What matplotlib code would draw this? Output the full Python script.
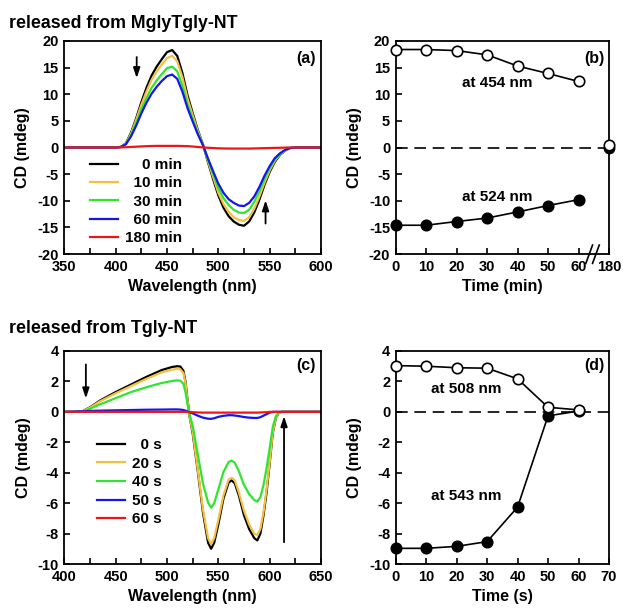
import matplotlib
matplotlib.use("Agg")
import matplotlib.pyplot as plt
import matplotlib.transforms as mtransforms

plt.rcParams['font.family'] = ['Liberation Sans', 'DejaVu Sans']
plt.rcParams['font.weight'] = 'bold'
plt.rcParams['axes.unicode_minus'] = False

# ---- panel (a): spectra, released from MglyTgly-NT ----
wl_a = [350, 400, 405, 410, 415, 420, 425, 430, 435, 440, 445, 450, 455, 460, 465, 470,
        475, 480, 485, 490, 495, 500, 505, 510, 515, 520, 525, 530, 535, 540, 545, 550,
        555, 560, 565, 570, 575, 600]
cd_0min = [0, 0, 0.1, 0.8, 2.8, 5.5, 8.5, 11.2, 13.5, 15.2, 16.6, 17.9, 18.3, 17.2, 14.0, 9.8,
           6.5, 3.3, 0.6, -2.8, -6.0, -9.0, -11.3, -12.9, -13.9, -14.5, -14.7, -13.9, -12.2, -9.8, -7.0, -4.6,
           -2.7, -1.4, -0.6, -0.1, 0, 0]
cd_10min = [0, 0, 0.1, 0.75, 2.6, 5.2, 8.0, 10.5, 12.7, 14.3, 15.6, 16.8, 17.2, 16.2, 13.2, 9.2,
            6.1, 3.1, 0.6, -2.6, -5.6, -8.5, -10.6, -12.1, -13.1, -13.6, -13.8, -13.1, -11.5, -9.2, -6.6, -4.3,
            -2.5, -1.3, -0.6, -0.1, 0, 0]
cd_30min = [0, 0, 0.1, 0.7, 2.3, 4.6, 7.1, 9.3, 11.2, 12.6, 13.8, 14.9, 15.2, 14.3, 11.6, 8.1,
            5.4, 2.7, 0.5, -2.4, -5.0, -7.6, -9.5, -10.8, -11.7, -12.2, -12.3, -11.7, -10.2, -8.2, -5.9, -3.9,
            -2.3, -1.2, -0.5, -0.1, 0, 0]
cd_60min = [0, 0, 0.1, 0.6, 2.1, 4.1, 6.4, 8.4, 10.1, 11.4, 12.5, 13.4, 13.7, 12.9, 10.5, 7.4,
            4.9, 2.5, 0.45, -2.1, -4.5, -6.8, -8.5, -9.7, -10.4, -10.9, -11.0, -10.4, -9.2, -7.4, -5.3, -3.5,
            -2.0, -1.1, -0.45, -0.1, 0, 0]
cd_180min = [0, 0, 0.02, 0.05, 0.1, 0.15, 0.2, 0.25, 0.28, 0.3, 0.3, 0.3, 0.3, 0.3, 0.28, 0.25,
             0.18, 0.1, 0.02, -0.05, -0.1, -0.15, -0.18, -0.2, -0.2, -0.2, -0.2, -0.2, -0.18, -0.15, -0.12, -0.1,
             -0.07, -0.05, -0.02, 0, 0, 0]
labels_a = ['\u2007\u20070 min', '\u200710 min', '\u200730 min', '\u200760 min', '180 min']

# ---- panel (b): time course ----
t_b = [0, 10, 20, 30, 40, 50, 60]
cd454 = [18.4, 18.4, 18.2, 17.4, 15.3, 13.9, 12.4]
cd524 = [-14.6, -14.6, -13.9, -13.25, -12.1, -10.9, -9.8]
t_b_late = 70          # position on the broken axis that stands for 180 min
cd454_180 = 0.55
cd524_180 = -0.1
tick_b = [0, 10, 20, 30, 40, 50, 60, 70]
ticklab_b = ['0', '10', '20', '30', '40', '50', '60', '180']

# ---- panel (c): spectra, released from Tgly-NT ----
wl_c = [400, 410, 418, 425, 435, 450, 465, 480, 495, 505, 510, 513, 516, 518, 520, 522,
        525, 530, 535, 540, 543, 546, 550, 555, 560, 563, 566, 570, 575, 580, 585, 588,
        591, 594, 597, 600, 603, 606, 609, 612, 620, 650]
cd_0s = [0, 0, 0.05, 0.3, 0.75, 1.3, 1.8, 2.3, 2.75, 2.95, 3.0, 2.98, 2.7, 2.0, 0.8, -0.3,
         -1.4, -3.9, -6.6, -8.6, -9.0, -8.6, -7.4, -5.7, -4.65, -4.5, -4.7, -5.5, -6.8, -7.7, -8.3, -8.45,
         -8.0, -6.8, -5.3, -3.4, -1.4, -0.4, -0.05, 0, 0, 0]
cd_20s = [0, 0, 0.05, 0.28, 0.7, 1.22, 1.7, 2.17, 2.6, 2.78, 2.82, 2.8, 2.55, 1.9, 0.75, -0.3,
          -1.3, -3.8, -6.4, -8.3, -8.7, -8.3, -7.1, -5.5, -4.45, -4.33, -4.5, -5.3, -6.5, -7.4, -8.0, -8.1,
          -7.7, -6.6, -5.1, -3.3, -1.35, -0.4, -0.05, 0, 0, 0]
cd_40s = [0, 0, 0.03, 0.2, 0.5, 0.9, 1.3, 1.62, 1.9, 2.03, 2.07, 2.05, 1.85, 1.3, 0.5, -0.2,
          -0.9, -2.8, -4.7, -5.95, -6.3, -6.0, -5.1, -3.95, -3.3, -3.2, -3.35, -3.9, -4.8, -5.4, -5.8, -5.9,
          -5.6, -4.8, -3.7, -2.4, -1.0, -0.3, -0.05, 0, 0, 0]
cd_50s = [0, 0.02, 0.04, 0.06, 0.08, 0.1, 0.12, 0.14, 0.15, 0.16, 0.16, 0.15, 0.12, 0.08, 0.02, -0.03,
          -0.1, -0.25, -0.38, -0.45, -0.46, -0.42, -0.33, -0.26, -0.22, -0.22, -0.24, -0.28, -0.34, -0.38, -0.4, -0.4,
          -0.35, -0.25, -0.15, -0.05, 0, 0, 0, 0, 0, 0]
cd_60s = [0, 0, 0, 0, 0, 0, 0, 0, 0, 0, 0, 0, 0, 0, 0, 0,
          -0.02, -0.04, -0.05, -0.05, -0.05, -0.05, -0.05, -0.05, -0.05, -0.05, -0.05, -0.05, -0.05, -0.05, -0.05, -0.05,
          -0.04, -0.03, -0.02, 0, 0, 0, 0, 0, 0, 0]
labels_c = ['\u20070 s', '20 s', '40 s', '50 s', '60 s']

# ---- panel (d): time course ----
t_d = [0, 10, 20, 30, 40, 50, 60]
cd508 = [3.04, 3.0, 2.9, 2.87, 2.17, 0.3, 0.13]
cd543 = [-8.97, -8.97, -8.84, -8.53, -6.26, -0.26, 0.05]

colors = ['black', '#F5C040', '#2EE62E', '#1515F0', '#F01515']

fig = plt.figure(figsize=(6.23, 6.14), dpi=100)
W, H = 623, 614
def px_axes(x0, y0, x1, y1):
    return fig.add_axes([x0 / W, 1 - y1 / H, (x1 - x0) / W, (y1 - y0) / H])

ax_a = px_axes(64.3, 41, 321, 254)
ax_b = px_axes(395.7, 41, 609, 254)
ax_c = px_axes(64.3, 351, 321, 564)
ax_d = px_axes(395.7, 351, 609, 564)

for ax in [ax_a, ax_b, ax_c, ax_d]:
    for s in ax.spines.values():
        s.set_linewidth(1.3)
    ax.tick_params(which='both', direction='in', length=4, width=1.2, labelsize=10.5, pad=4)

# (a)
for y, c, lab in zip([cd_0min, cd_10min, cd_30min, cd_60min, cd_180min], colors, labels_a):
    ax_a.plot(wl_a, y, color=c, lw=1.6, label=lab)
ax_a.set_xlim(350, 600)
ax_a.set_ylim(-20, 20)
ax_a.set_xticks(range(350, 601, 50))
ax_a.set_xticks(range(375, 600, 50), minor=True)
ax_a.set_yticks(range(-20, 21, 5))
ax_a.set_xlabel('Wavelength (nm)', fontsize=11.5, fontweight='bold', labelpad=4)
ax_a.set_ylabel('CD (mdeg)', fontsize=11.5, fontweight='bold', labelpad=5)
ax_a.legend(loc='upper left', bbox_to_anchor=(0.10, 0.45), frameon=False, fontsize=11,
            handlelength=1.85, handletextpad=0.45, labelspacing=0.28, borderpad=0, borderaxespad=0)
ax_a.annotate('', xy=(420.5, 12.5), xytext=(420.5, 17.5),
              arrowprops=dict(arrowstyle='-|>,head_width=0.2,head_length=0.6', color='black', lw=1.3))
ax_a.annotate('', xy=(546, -9.4), xytext=(546, -14.8),
              arrowprops=dict(arrowstyle='-|>,head_width=0.2,head_length=0.6', color='black', lw=1.3))
ax_a.text(0.978, 0.92, '(a)', transform=ax_a.transAxes, ha='right', va='center', fontsize=11.5)

# (b)
ax_b.axhline(0, color='black', lw=1.2, ls=(0, (7, 4)))
ax_b.plot(t_b, cd454, '-o', color='black', lw=1.2, ms=7.5, mfc='white', mec='black', mew=1.2, clip_on=False, zorder=4)
ax_b.plot(t_b, cd524, '-o', color='black', lw=1.2, ms=7.5, mfc='black', mec='black', mew=1.2, clip_on=False, zorder=4)
ax_b.plot([t_b_late], [cd524_180], 'o', ms=7.5, mfc='black', mec='black', clip_on=False, zorder=5)
ax_b.plot([t_b_late], [cd454_180], 'o', ms=7.5, mfc='white', mec='black', mew=1.2, clip_on=False, zorder=6)
ax_b.set_xlim(0, 70)
ax_b.set_ylim(-20, 20)
ax_b.set_xticks(tick_b)
ax_b.set_xticklabels(ticklab_b)
ax_b.set_yticks(range(-20, 21, 5))
ax_b.set_xlabel('Time (min)', fontsize=11.5, fontweight='bold', labelpad=4)
ax_b.set_ylabel('CD (mdeg)', fontsize=11.5, fontweight='bold', labelpad=5)
ax_b.text(33.4, 12.1, 'at 454 nm', ha='center', va='center', fontsize=11)
ax_b.text(33.4, -9.25, 'at 524 nm', ha='center', va='center', fontsize=11)
ax_b.text(0.981, 0.92, '(b)', transform=ax_b.transAxes, ha='right', va='center', fontsize=11.5)
brk = mtransforms.blended_transform_factory(ax_b.transData, ax_b.transAxes)
for x0 in [62.4, 64.6]:
    ax_b.plot([x0, x0 + 2.2], [-0.044, 0.042], color='black', lw=1.2, transform=brk, clip_on=False)

# (c)
for y, c, lab in zip([cd_0s, cd_20s, cd_40s, cd_50s, cd_60s], colors, labels_c):
    ax_c.plot(wl_c, y, color=c, lw=1.6, label=lab)
ax_c.set_xlim(400, 650)
ax_c.set_ylim(-10, 4)
ax_c.set_xticks(range(400, 651, 50))
ax_c.set_xticks(range(425, 650, 50), minor=True)
ax_c.set_yticks(range(-10, 5, 2))
ax_c.set_xlabel('Wavelength (nm)', fontsize=11.5, fontweight='bold', labelpad=4)
ax_c.set_ylabel('CD (mdeg)', fontsize=11.5, fontweight='bold', labelpad=5)
ax_c.legend(loc='upper left', bbox_to_anchor=(0.127, 0.591), frameon=False, fontsize=11,
            handlelength=1.85, handletextpad=0.45, labelspacing=0.3, borderpad=0, borderaxespad=0)
ax_c.annotate('', xy=(421, 0.7), xytext=(421, 3.3),
              arrowprops=dict(arrowstyle='-|>,head_width=0.2,head_length=0.6', color='black', lw=1.3))
ax_c.annotate('', xy=(614, -0.1), xytext=(614, -8.75),
              arrowprops=dict(arrowstyle='-|>,head_width=0.2,head_length=0.6', color='black', lw=1.3))
ax_c.text(0.978, 0.934, '(c)', transform=ax_c.transAxes, ha='right', va='center', fontsize=11.5)

# (d)
ax_d.axhline(0, color='black', lw=1.2, ls=(0, (7, 4)))
ax_d.plot(t_d, cd543, '-o', color='black', lw=1.2, ms=7.5, mfc='black', mec='black', mew=1.2, clip_on=False, zorder=4)
ax_d.plot(t_d, cd508, '-o', color='black', lw=1.2, ms=7.5, mfc='white', mec='black', mew=1.2, clip_on=False, zorder=5)
ax_d.set_xlim(0, 70)
ax_d.set_ylim(-10, 4)
ax_d.set_xticks(range(0, 71, 10))
ax_d.set_yticks(range(-10, 5, 2))
ax_d.set_xlabel('Time (s)', fontsize=11.5, fontweight='bold', labelpad=4)
ax_d.set_ylabel('CD (mdeg)', fontsize=11.5, fontweight='bold', labelpad=5)
ax_d.text(23, 1.5, 'at 508 nm', ha='center', va='center', fontsize=11)
ax_d.text(23, -5.5, 'at 543 nm', ha='center', va='center', fontsize=11)
ax_d.text(0.981, 0.934, '(d)', transform=ax_d.transAxes, ha='right', va='center', fontsize=11.5)

fig.text(9 / W, 1 - 28 / H, 'released from MglyTgly-NT', fontsize=12.8, fontweight='bold', va='baseline')
fig.text(9 / W, 1 - 333 / H, 'released from Tgly-NT', fontsize=12.8, fontweight='bold', va='baseline')

fig.savefig('out.png', dpi=100)
